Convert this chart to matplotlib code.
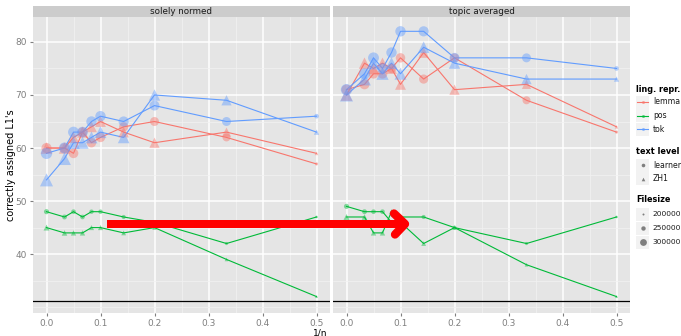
import matplotlib.pyplot as plt
import numpy as np
from matplotlib.lines import Line2D
from matplotlib.patches import Rectangle

W, H = 681, 336

inv_n = [0, 1 / 30, 1 / 20, 1 / 15, 1 / 12, 1 / 10, 1 / 7, 1 / 5, 1 / 3, 1 / 2]

# file sizes [bytes] per representation, shared by both text levels
size_lemma = [370000, 365000, 360000, 360000, 355000, 355000, 350000, 345000, 325000, 225000]
size_pos = [265000, 260000, 255000, 255000, 250000, 250000, 245000, 240000, 225000, 212000]
size_tok = [395000, 390000, 385000, 380000, 375000, 375000, 370000, 365000, 345000, 255000]

# solely normed
sn_lemma_learner = [60, 60, 59, 63, 61, 62, 64, 65, 62, 57]
sn_lemma_zh1 = [60, 60, 62, 63, 64, 65, 63, 61, 63, 59]
sn_pos_learner = [48, 47, 48, 47, 48, 48, 47, 46, 42, 47]
sn_pos_zh1 = [45, 44, 44, 44, 45, 45, 44, 45, 39, 32]
sn_tok_learner = [59, 60, 63, 63, 65, 66, 65, 68, 65, 66]
sn_tok_zh1 = [54, 58, 61, 61, 62, 63, 62, 70, 69, 63]

# topic averaged
ta_lemma_learner = [71, 72, 74, 74, 75, 77, 73, 77, 69, 63]
ta_lemma_zh1 = [70, 76, 75, 76, 75, 72, 78, 71, 72, 64]
ta_pos_learner = [49, 48, 48, 48, 46, 47, 47, 45, 42, 47]
ta_pos_zh1 = [47, 47, 44, 44, 48, 46, 42, 45, 38, 32]
ta_tok_learner = [71, 74, 77, 75, 78, 82, 82, 77, 77, 75]
ta_tok_zh1 = [70, 73, 76, 74, 76, 74, 79, 76, 73, 73]

baseline = 31.2

panel_titles = ["solely normed", "topic averaged"]
reprs = ["lemma", "pos", "tok"]
levels = ["learner", "ZH1"]
legend_sizes = [200000, 250000, 300000]

colors = {"lemma": "#F8766D", "pos": "#00BA38", "tok": "#619CFF"}
markers = {"learner": "o", "ZH1": "^"}
sizes = {"lemma": size_lemma, "pos": size_pos, "tok": size_tok}
panels = [
    {
        ("lemma", "learner"): sn_lemma_learner, ("lemma", "ZH1"): sn_lemma_zh1,
        ("pos", "learner"): sn_pos_learner, ("pos", "ZH1"): sn_pos_zh1,
        ("tok", "learner"): sn_tok_learner, ("tok", "ZH1"): sn_tok_zh1,
    },
    {
        ("lemma", "learner"): ta_lemma_learner, ("lemma", "ZH1"): ta_lemma_zh1,
        ("pos", "learner"): ta_pos_learner, ("pos", "ZH1"): ta_pos_zh1,
        ("tok", "learner"): ta_tok_learner, ("tok", "ZH1"): ta_tok_zh1,
    },
]


def diam_px(fs):
    # marker diameter in pixels grows linearly with file size
    return 2 + (np.asarray(fs) - 200000) / 25000 * 1.2


def px_to_pt(d):
    return d * 72 / 100


fig = plt.figure(figsize=(W / 100, H / 100), dpi=100)
fig.patch.set_facecolor("white")

tick_col = "#7F7F7F"
panel_left = [33, 333]
panel_w = 297
panel_top, panel_bot = 17, 313

for k, data in enumerate(panels):
    x0 = panel_left[k]
    ax = fig.add_axes([x0 / W, (H - panel_bot) / H, panel_w / W, (panel_bot - panel_top) / H])
    ax.set_facecolor("#E5E5E5")
    ax.set_xlim(-0.025, 0.525)
    ax.set_ylim(28.9, 84.7)
    ax.set_xticks([0, 0.1, 0.2, 0.3, 0.4, 0.5])
    ax.set_xticks([0.05, 0.15, 0.25, 0.35, 0.45], minor=True)
    ax.set_yticks([40, 50, 60, 70, 80])
    ax.set_yticks([30, 35, 45, 55, 65, 75], minor=True)
    ax.grid(which="major", color="white", linewidth=1.1)
    ax.grid(which="minor", color="#F2F2F2", linewidth=0.5)
    ax.set_axisbelow(True)
    for s in ax.spines.values():
        s.set_visible(False)
    ax.tick_params(which="major", length=2.5, color=tick_col, labelcolor=tick_col,
                   labelsize=6.5, pad=2)
    ax.tick_params(which="minor", length=0)
    ax.set_xticklabels(["0.0", "0.1", "0.2", "0.3", "0.4", "0.5"])
    if k == 0:
        ax.set_yticklabels(["40", "50", "60", "70", "80"])
    else:
        ax.tick_params(axis="y", which="major", length=0, labelleft=False)

    ax.axhline(baseline, color="black", linewidth=0.9, zorder=1)

    for rp in reprs:
        for lv in levels:
            vals = data[(rp, lv)]
            ax.plot(inv_n, vals, color=colors[rp], linewidth=0.8, zorder=3)
            d = diam_px(sizes[rp]) * (1.15 if lv == "ZH1" else 1.0)
            ax.scatter(inv_n, vals, s=px_to_pt(d) ** 2, marker=markers[lv],
                       color=colors[rp], alpha=0.45, linewidths=0, zorder=4)

# overlay in pixel coordinates for strips, legend and the arrow
ov = fig.add_axes([0, 0, 1, 1], facecolor="none")
ov.set_xlim(0, W)
ov.set_ylim(H, 0)
ov.axis("off")

for k, title in enumerate(panel_titles):
    x0 = panel_left[k]
    ov.add_patch(Rectangle((x0, 6), panel_w, panel_top - 6, color="#CCCCCC", lw=0))
    ov.text(x0 + panel_w / 2, 11.5, title, ha="center", va="center", fontsize=6.3,
            color="#1A1A1A")

ov.text(11, 165, "correctly assigned L1's", rotation=90, ha="center", va="center",
        fontsize=7)
ov.text(320, 332.5, "1/n", ha="center", va="center", fontsize=6.5)

# legend
lx = 636
key = 13
fs_leg = 5.6


def legend_key(y):
    ov.add_patch(Rectangle((lx, y - key / 2), key, key, color="#F2F2F2", lw=0))


ov.text(lx, 90, "ling. repr.", fontsize=5.9, fontweight="bold", va="center")
for i, rp in enumerate(reprs):
    y = 102 + i * 13.5
    legend_key(y)
    ov.add_line(Line2D([lx + 1, lx + key - 1], [y, y], color=colors[rp], lw=0.8))
    ov.plot(lx + key / 2, y, marker="o", ms=2.2, color=colors[rp], alpha=0.6, mew=0)
    ov.text(lx + key + 4, y, rp, fontsize=fs_leg, va="center", color="#1A1A1A")

ov.text(lx, 151, "text level", fontsize=5.9, fontweight="bold", va="center")
for i, lv in enumerate(levels):
    y = 165 + i * 13.5
    legend_key(y)
    ov.plot(lx + key / 2, y, marker=markers[lv], ms=2.6, color="#7F7F7F", mew=0)
    ov.text(lx + key + 4, y, lv, fontsize=fs_leg, va="center", color="#1A1A1A")

ov.text(lx, 200, "Filesize", fontsize=5.9, fontweight="bold", va="center")
for i, fs in enumerate(legend_sizes):
    y = 214 + i * 14
    legend_key(y)
    ov.plot(lx + key / 2, y, marker="o", ms=px_to_pt(diam_px(fs)), color="#7F7F7F", mew=0)
    ov.text(lx + key + 3, y, str(fs), fontsize=5.4, va="center", color="#1A1A1A")

# red arrow across both panels
ov.add_patch(Rectangle((107, 220), 295, 7.7, color="#FF0000", lw=0, zorder=10))
ov.add_line(Line2D([394, 405, 395], [213.5, 224, 234.5], color="#FF0000", lw=6,
                   solid_capstyle="round", solid_joinstyle="round", zorder=10))

fig.savefig("out.png", dpi=100)
